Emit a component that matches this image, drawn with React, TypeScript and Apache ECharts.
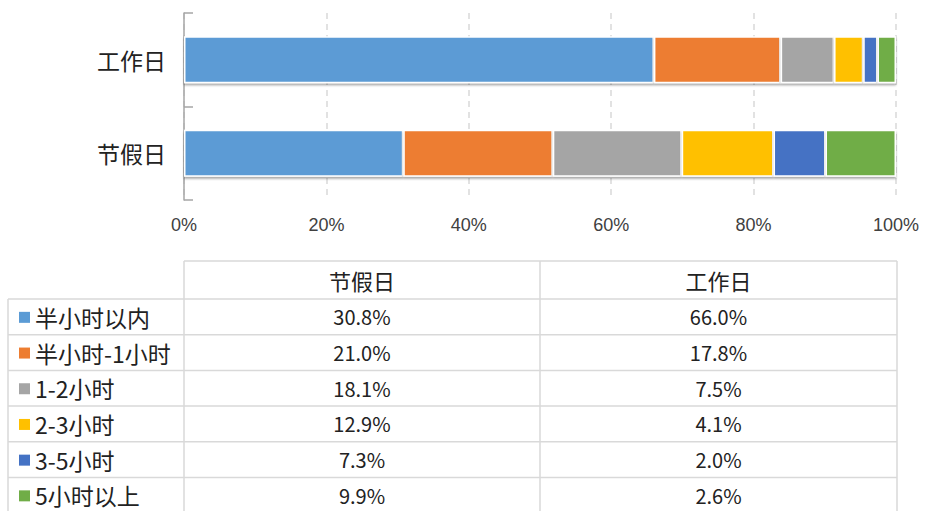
import React, { useEffect, useRef } from "react";
import * as echarts from "echarts";

const dayTypes = ["节假日", "工作日"];
const tableColumns = ["节假日", "工作日"];
const durations = ["半小时以内", "半小时-1小时", "1-2小时", "2-3小时", "3-5小时", "5小时以上"];
const holidayValues = [30.8, 21.0, 18.1, 12.9, 7.3, 9.9];
const workdayValues = [66.0, 17.8, 7.5, 4.1, 2.0, 2.6];
const colors = ["#5B9BD5", "#ED7D31", "#A5A5A5", "#FFC000", "#4472C4", "#70AD47"];

const CJK = "'Noto Sans CJK SC', 'Noto Sans', sans-serif";

export default function App() {
  const ref = useRef<HTMLDivElement>(null);
  useEffect(() => {
    if (!ref.current) return;
    const chart = echarts.init(ref.current, undefined, { renderer: "svg" });

    // table geometry
    const left = 8;
    const c1 = 184;
    const c2 = 540;
    const right = 897;
    const headTop = 261;
    const rowTop = 299;
    const rowH = 35.7;
    const lineStyle = { stroke: "#d9d9d9", lineWidth: 1.5 };
    const g: any[] = [];
    const bottom = 520;
    g.push({ type: "line", shape: { x1: left, y1: rowTop, x2: left, y2: bottom }, style: lineStyle });
    [c1, c2, right].forEach((x) =>
      g.push({ type: "line", shape: { x1: x, y1: headTop, x2: x, y2: bottom }, style: lineStyle })
    );
    g.push({ type: "line", shape: { x1: c1, y1: headTop, x2: right, y2: headTop }, style: lineStyle });
    for (let i = 0; i <= durations.length; i++) {
      const y = rowTop + rowH * i;
      g.push({ type: "line", shape: { x1: left, y1: y, x2: right, y2: y }, style: lineStyle });
    }
    tableColumns.forEach((h, j) => {
      const cx = j === 0 ? (c1 + c2) / 2 : (c2 + right) / 2;
      g.push({
        type: "text",
        x: cx,
        y: (headTop + rowTop) / 2,
        style: { text: h, fill: "#222", font: `22px ${CJK}`, align: "center", verticalAlign: "middle" },
      });
    });
    durations.forEach((d, i) => {
      const cy = rowTop + rowH * i + rowH / 2;
      g.push({ type: "rect", shape: { x: 19, y: cy - 5, width: 11, height: 11 }, style: { fill: colors[i] } });
      g.push({
        type: "text",
        x: 35,
        y: cy,
        style: { text: d, fill: "#222", font: `23px ${CJK}`, align: "left", verticalAlign: "middle" },
      });
      [holidayValues[i], workdayValues[i]].forEach((v, j) => {
        const cx = j === 0 ? (c1 + c2) / 2 : (c2 + right) / 2;
        g.push({
          type: "text",
          x: cx,
          y: cy,
          style: {
            text: v.toFixed(1) + "%",
            fill: "#222",
            font: `20px ${CJK}`,
            align: "center",
            verticalAlign: "middle",
          },
        });
      });
    });

    chart.setOption({
      animation: false,
      backgroundColor: "#ffffff",
      grid: { left: 184, right: 29, top: 13, bottom: 311, containLabel: false },
      xAxis: {
        type: "value",
        min: 0,
        max: 100,
        interval: 20,
        axisLine: { show: false },
        axisTick: { show: false },
        axisLabel: {
          formatter: "{value}%",
          fontSize: 18,
          color: "#404040",
          margin: 16,
          fontFamily: "'Liberation Sans', Arial, sans-serif",
        },
        splitLine: { show: true, lineStyle: { color: "#d9d9d9", type: [6, 5], width: 1.5 } },
      },
      yAxis: {
        type: "category",
        data: dayTypes,
        axisLine: { show: true, lineStyle: { color: "#a6a6a6", width: 1.5 } },
        axisTick: { show: true, inside: true, length: 9, lineStyle: { color: "#a6a6a6", width: 1.5 } },
        axisLabel: { fontSize: 23, color: "#222", margin: 18, fontFamily: CJK },
        splitLine: { show: false },
      },
      series: durations.map((d, i) => ({
        name: d,
        type: "bar",
        stack: "total",
        barWidth: 47,
        data: [holidayValues[i], workdayValues[i]],
        itemStyle: {
          color: colors[i],
          borderColor: "#ffffff",
          borderWidth: 1.5,
          shadowColor: "rgba(0,0,0,0.35)",
          shadowBlur: 2,
          shadowOffsetY: 2,
        },
      })),
      graphic: g,
    });
    return () => chart.dispose();
  }, []);
  return (
    <div
      ref={ref}
      style={{ position: "fixed", left: 0, top: 0, width: 925, height: 511, background: "#fff" }}
    />
  );
}
